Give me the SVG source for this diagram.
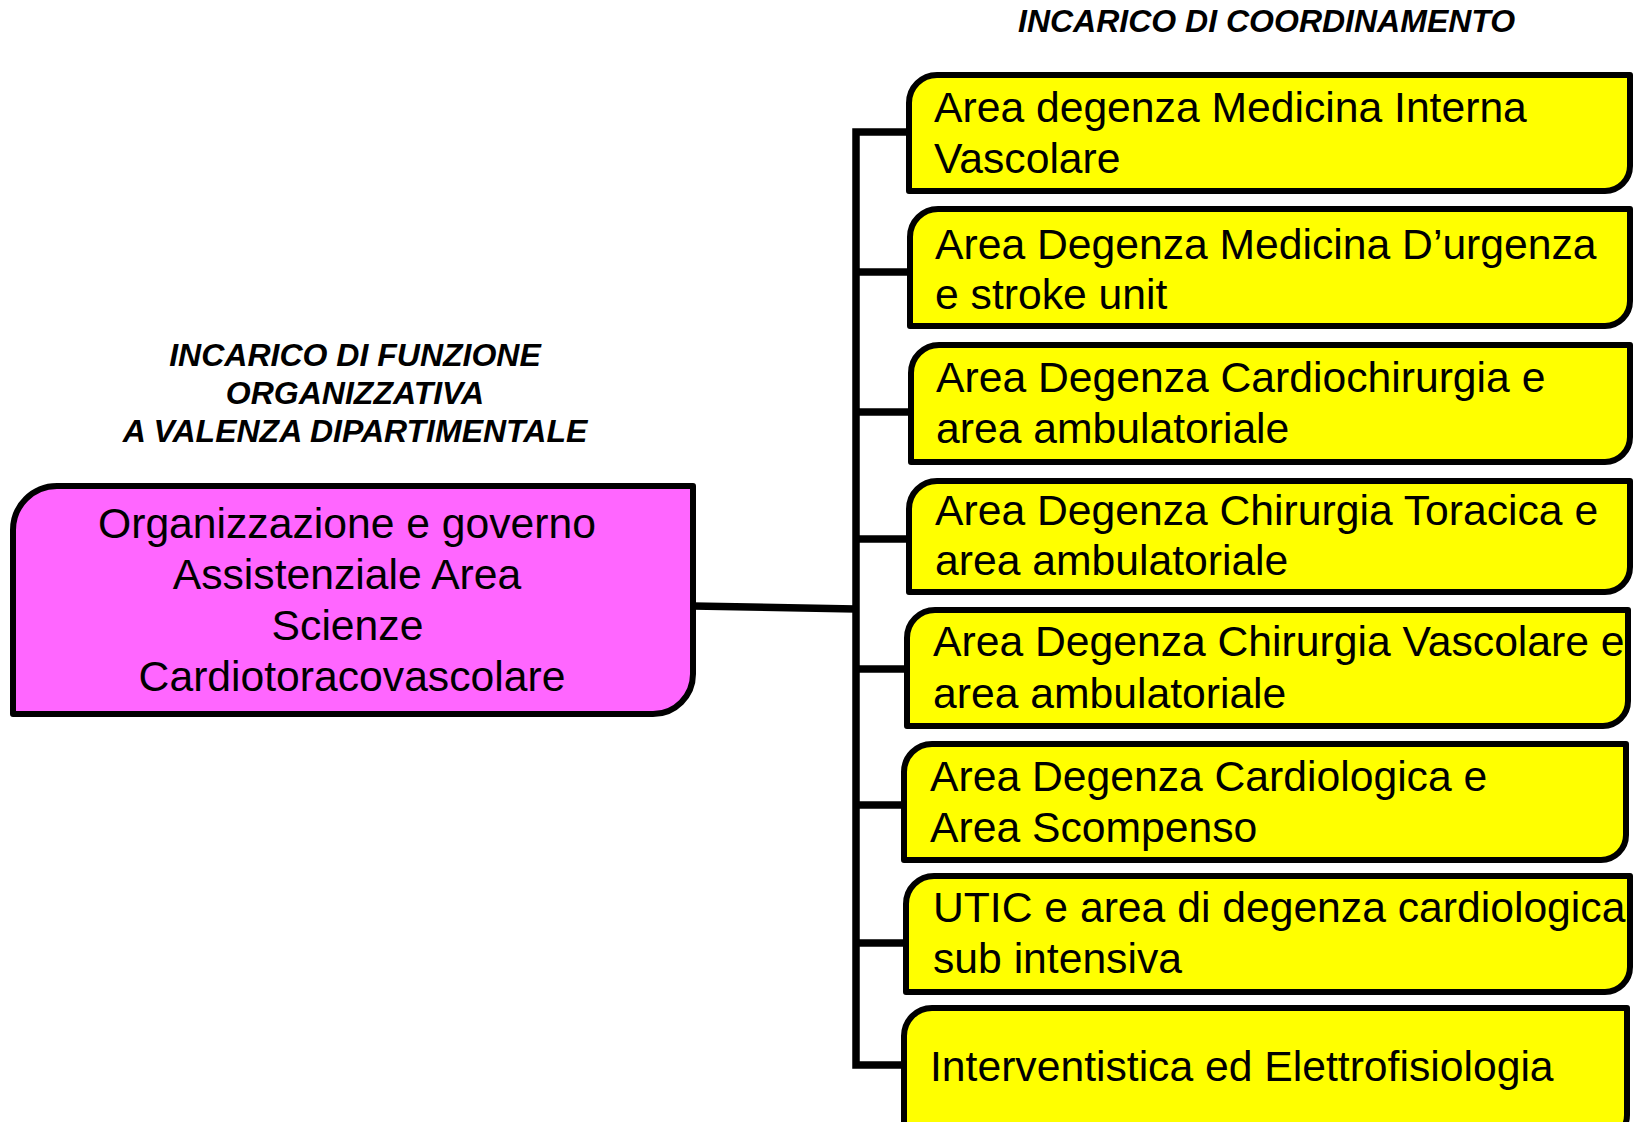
<svg xmlns="http://www.w3.org/2000/svg" width="1636" height="1122" viewBox="0 0 1636 1122">
<style>
.box{fill:#FFFF00;stroke:#000;stroke-width:6;stroke-linejoin:round}
.root{fill:#FF66FF;stroke:#000;stroke-width:6;stroke-linejoin:round}
.t{font-family:"Liberation Sans",Arial,sans-serif;font-size:42.67px;fill:#000}
.h{font-family:"Liberation Sans",Arial,sans-serif;font-size:32px;font-weight:bold;font-style:italic;fill:#000}
.c{fill:none;stroke:#000;stroke-width:7.5;stroke-linejoin:miter}
</style>
<rect width="1636" height="1122" fill="#fff"/>
<g id="title-coord"><text class="h" x="1018" y="32">INCARICO DI COORDINAMENTO</text></g>
<g id="title-funz">
<text class="h" x="355" y="366" text-anchor="middle">INCARICO DI FUNZIONE</text>
<text class="h" x="355" y="404" text-anchor="middle">ORGANIZZATIVA</text>
<text class="h" x="355" y="442" text-anchor="middle">A VALENZA DIPARTIMENTALE</text>
</g>
<g id="connectors">
<path class="c" d="M693 606 L856 609"/>
<path class="c" d="M909 132 H856 V1065 H904"/>
<path class="c" d="M856 272 H910"/>
<path class="c" d="M856 412 H911"/>
<path class="c" d="M856 539 H909"/>
<path class="c" d="M856 669 H907"/>
<path class="c" d="M856 805 H904"/>
<path class="c" d="M856 943 H906"/>
</g>
<g id="root">
<path class="root" d="M57 486 H693 V674 A40 40 0 0 1 653 714 H13 V530 A44 44 0 0 1 57 486 Z"/>
<text class="t" x="347" y="538" text-anchor="middle">Organizzazione e governo</text>
<text class="t" x="347" y="589" text-anchor="middle">Assistenziale Area</text>
<text class="t" x="347.5" y="640" text-anchor="middle">Scienze</text>
<text class="t" x="352" y="691" text-anchor="middle">Cardiotoracovascolare</text>
</g>
<g id="n1">
<path class="box" d="M937 75 H1630 V166 A25 25 0 0 1 1605 191 H909 V103 A28 28 0 0 1 937 75 Z"/>
<text class="t" x="934" y="122">Area degenza Medicina Interna</text>
<text class="t" x="934" y="173">Vascolare</text>
</g>
<g id="n2">
<path class="box" d="M938 209 H1630 V301 A25 25 0 0 1 1605 326 H910 V237 A28 28 0 0 1 938 209 Z"/>
<text class="t" x="935" y="259">Area Degenza Medicina D’urgenza</text>
<text class="t" x="935" y="309">e stroke unit</text>
</g>
<g id="n3">
<path class="box" d="M939 345 H1630 V437 A25 25 0 0 1 1605 462 H911 V373 A28 28 0 0 1 939 345 Z"/>
<text class="t" x="936" y="392">Area Degenza Cardiochirurgia e</text>
<text class="t" x="936" y="443">area ambulatoriale</text>
</g>
<g id="n4">
<path class="box" d="M937 481 H1630 V567 A25 25 0 0 1 1605 592 H909 V509 A28 28 0 0 1 937 481 Z"/>
<text class="t" x="935" y="525">Area Degenza Chirurgia Toracica e</text>
<text class="t" x="935" y="575">area ambulatoriale</text>
</g>
<g id="n5">
<path class="box" d="M935 610 H1628 V701 A25 25 0 0 1 1603 726 H907 V638 A28 28 0 0 1 935 610 Z"/>
<text class="t" x="933" y="656">Area Degenza Chirurgia Vascolare e</text>
<text class="t" x="933" y="708">area ambulatoriale</text>
</g>
<g id="n6">
<path class="box" d="M932 744 H1626 V835 A25 25 0 0 1 1601 860 H904 V772 A28 28 0 0 1 932 744 Z"/>
<text class="t" x="930" y="791">Area Degenza Cardiologica e</text>
<text class="t" x="930" y="842">Area Scompenso</text>
</g>
<g id="n7">
<path class="box" d="M934 876 H1630 V967 A25 25 0 0 1 1605 992 H906 V904 A28 28 0 0 1 934 876 Z"/>
<text class="t" x="933" y="922">UTIC e area di degenza cardiologica</text>
<text class="t" x="933" y="973">sub intensiva</text>
</g>
<g id="n8">
<path class="box" d="M932 1008 H1627 V1115 A25 25 0 0 1 1602 1140 H904 V1036 A28 28 0 0 1 932 1008 Z"/>
<text class="t" x="930" y="1081">Interventistica ed Elettrofisiologia</text>
</g>
</svg>
